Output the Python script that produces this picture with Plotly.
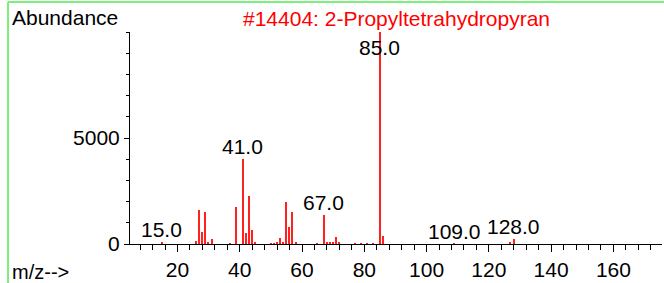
import plotly.graph_objects as go

mz = [15, 26, 27, 28, 29, 30, 31, 37, 39, 41, 42, 43, 44, 45, 50, 51, 52, 53, 54,
      55, 56, 57, 58, 65, 67, 68, 69, 70, 71, 72, 77, 79, 81, 83, 85, 86, 109, 127, 128]
abundance = [100, 120, 1600, 580, 1530, 60, 240, 40, 1730, 4000, 520, 2280, 640, 60, 30, 40, 60, 290, 110,
             1960, 800, 1530, 60, 30, 1360, 90, 80, 60, 330, 60, 25, 35, 30, 40, 9999, 360, 15, 60, 250]
labeled_peaks = [15, 41, 67, 85, 109, 128]
title_text = "#14404: 2-Propyltetrahydropyran"
x_major = [20, 40, 60, 80, 100, 120, 140, 160]
y_major = [0, 5000]

FONT = "Liberation Sans, Arial, sans-serif"
fig = go.Figure()
fig.add_trace(go.Bar(x=mz, y=abundance, width=0.45, marker_color="#ff2020",
                     marker_line_width=0, hoverinfo="x+y"))

lookup = dict(zip(mz, abundance))
for p in labeled_peaks:
    if lookup[p] > 9000:
        fig.add_annotation(x=p, y=lookup[p], text=f"{p:.1f}", showarrow=False,
                           yanchor="top", yshift=-2, font=dict(family=FONT, size=21, color="black"))
    else:
        fig.add_annotation(x=p, y=lookup[p], text=f"{p:.1f}", showarrow=False,
                           yanchor="bottom", yshift=-1, font=dict(family=FONT, size=21, color="black"))

fig.add_annotation(xref="paper", yref="paper", x=-0.2256, y=1.07, text="Abundance",
                   showarrow=False, xanchor="left", yanchor="middle",
                   font=dict(family=FONT, size=21, color="black"))
fig.add_annotation(xref="paper", yref="paper", x=0.5, y=1.066, text=title_text,
                   showarrow=False, xanchor="center", yanchor="middle",
                   font=dict(family=FONT, size=21, color="#ff0000"))
fig.add_annotation(xref="paper", yref="paper", x=-0.2256, y=-0.13, text="m/z-->",
                   showarrow=False, xanchor="left", yanchor="middle",
                   font=dict(family=FONT, size=20, color="black"))

# green frame lines (top and left only)
fig.add_shape(type="line", xref="paper", yref="paper", x0=-0.2293, x1=1.02, y0=1.141, y1=1.141,
              line=dict(color="#7cf07c", width=2))
fig.add_shape(type="line", xref="paper", yref="paper", x0=-0.2293, x1=-0.2293, y0=-0.2, y1=1.141,
              line=dict(color="#7cf07c", width=2))

fig.update_xaxes(range=[4.76, 175.6], showgrid=False, zeroline=False, showline=True,
                 linecolor="black", linewidth=1, tickmode="array", tickvals=x_major,
                 ticktext=[str(v) for v in x_major], ticks="outside", ticklen=7,
                 tickcolor="black", tickfont=dict(family=FONT, size=21, color="black"),
                 minor=dict(dtick=4, tick0=0, ticks="outside", ticklen=5, tickcolor="black", showgrid=False))
fig.update_yaxes(range=[0, 10000], showgrid=False, zeroline=False, showline=True,
                 linecolor="black", linewidth=1, tickmode="array", tickvals=y_major,
                 ticktext=[str(v) for v in y_major], ticks="outside", ticklen=5,
                 tickcolor="black", tickfont=dict(family=FONT, size=21, color="black"),
                 minor=dict(dtick=1000, tick0=0, ticks="outside", ticklen=3, tickcolor="black", showgrid=False))

fig.update_layout(width=664, height=283, margin=dict(l=130, r=2, t=32, b=37),
                  paper_bgcolor="white", plot_bgcolor="white", showlegend=False,
                  bargap=0)
fig.write_html("out.html", config={"displayModeBar": False},
               post_script="document.body.style.margin='0';document.body.style.overflow='hidden';")
